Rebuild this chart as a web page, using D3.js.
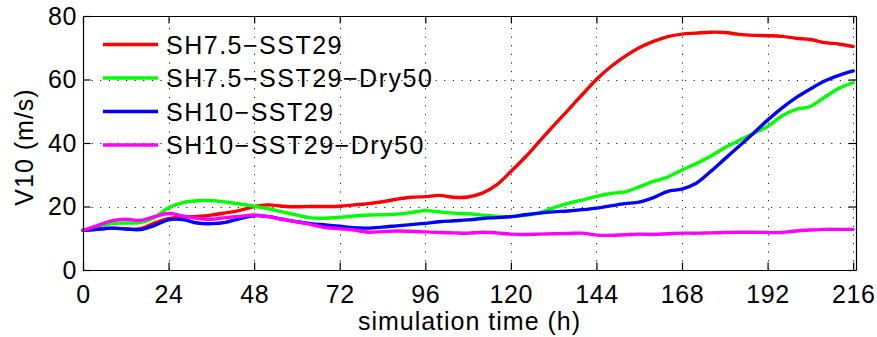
<!DOCTYPE html>
<html>
<head>
<meta charset="utf-8">
<script src="https://cdn.jsdelivr.net/npm/d3@7"></script>
<style>
  html, body { margin: 0; padding: 0; background: #fff; }
  svg { display: block; font-family: "Liberation Sans", Arial, Helvetica, sans-serif; }
</style>
</head>
<body>
<script>
"use strict";
// simulation time (h), every 4 h
const hours = d3.range(0, 217, 4);
const seriesNames = ["SH7.5\u2212SST29", "SH7.5\u2212SST29\u2212Dry50", "SH10\u2212SST29", "SH10\u2212SST29\u2212Dry50"];
const seriesColors = ["#ff0000", "#00ff00", "#0000ff", "#ff00ff"];
const sh75 = [12.5, 12.8, 13.2, 13.0, 13.0, 14.8, 16.2, 16.7, 16.9, 17.3, 18.0, 18.8, 20.0, 20.5,
	20.1, 19.9, 20.0, 20.0, 20.1, 20.5, 20.9, 21.5, 22.3, 22.9, 23.1, 23.5, 22.9, 23.0, 24.2, 26.8,
	31.0, 35.5, 40.5, 45.5, 50.3, 55.2, 60.0, 64.0, 67.3, 70.0, 72.0, 73.5, 74.3, 74.6, 74.9, 74.8,
	74.2, 73.9, 73.8, 73.6, 73.0, 72.6, 71.6, 71.2, 70.4];
const sh75dry = [12.5, 13.5, 14.6, 14.8, 14.9, 16.5, 19.6, 21.2, 21.8, 21.9, 21.4, 20.8, 20.1, 19.3,
	18.3, 17.3, 16.4, 16.3, 16.6, 17.0, 17.3, 17.4, 17.6, 18.1, 18.7, 18.3, 17.9, 17.7, 17.3, 16.9,
	16.8, 17.2, 18.0, 19.6, 21.0, 22.0, 23.2, 24.1, 24.6, 26.2, 27.9, 29.3, 31.5, 33.5, 35.8, 38.5,
	40.8, 43.0, 45.2, 48.5, 50.6, 51.5, 54.4, 57.2, 59.0];
const sh10 = [12.5, 12.8, 13.2, 12.9, 12.7, 14.0, 15.8, 15.9, 14.8, 14.6, 15.0, 16.2, 17.1, 16.8,
	16.0, 15.2, 14.6, 14.2, 13.8, 13.3, 13.2, 13.5, 13.9, 14.3, 14.7, 15.2, 15.5, 15.8, 16.2, 16.5,
	16.8, 17.4, 17.9, 18.3, 18.6, 19.0, 19.5, 20.2, 20.9, 21.4, 22.8, 24.8, 25.5, 27.3, 31.0, 35.0,
	39.0, 43.0, 47.2, 51.0, 54.3, 57.0, 59.5, 61.3, 62.7];
const sh10dry = [12.5, 14.0, 15.5, 16.0, 15.6, 16.8, 17.8, 17.0, 16.3, 16.0, 16.5, 16.9, 17.3, 16.8,
	15.9, 15.2, 14.3, 13.4, 13.0, 12.6, 11.9, 12.1, 12.3, 12.2, 12.0, 11.8, 11.7, 11.6, 11.9, 11.7,
	11.3, 11.2, 11.3, 11.4, 11.5, 11.6, 11.0, 10.9, 11.1, 11.3, 11.2, 11.4, 11.6, 11.6, 11.7, 11.8,
	11.9, 11.9, 11.8, 11.8, 12.3, 12.6, 12.8, 12.8, 12.8];
const xTicks = [0, 24, 48, 72, 96, 120, 144, 168, 192, 216];
const yTicks = [0, 20, 40, 60, 80];

const W = 877, H = 337;
const mLeft = 83, mRight = 856, mTop = 16, mBottom = 270;

const svg = d3.select("body").append("svg").attr("width", W).attr("height", H);
const x = d3.scaleLinear().domain([0, 216.8]).range([mLeft, mRight]);
const y = d3.scaleLinear().domain([0, 80]).range([mBottom, mTop]);

// dotted grid
const grid = svg.append("g").attr("stroke", "#222").attr("stroke-width", 1).attr("stroke-dasharray", "1.2,7.4");
grid.selectAll("line.v").data(xTicks.slice(1)).enter().append("line")
	.attr("x1", d => Math.round(x(d)) + 0.5).attr("x2", d => Math.round(x(d)) + 0.5)
	.attr("y1", mBottom).attr("y2", mTop);
grid.selectAll("line.h").data(yTicks.slice(1, -1)).enter().append("line")
	.attr("y1", d => Math.round(y(d)) + 0.5).attr("y2", d => Math.round(y(d)) + 0.5)
	.attr("x1", mLeft).attr("x2", mRight);

// data lines
const data = [sh75, sh75dry, sh10, sh10dry];
const line = d3.line().x((d, i) => x(hours[i])).y(d => y(d)).curve(d3.curveCatmullRom.alpha(0.5));
svg.append("g").selectAll("path").data(data).enter().append("path")
	.attr("d", line).attr("fill", "none")
	.attr("stroke", (d, i) => seriesColors[i]).attr("stroke-width", 3.4)
	.attr("stroke-linejoin", "round").attr("stroke-linecap", "round");

// axes, ticks inward
svg.append("g").attr("transform", "translate(0," + mBottom + ")")
	.call(d3.axisBottom(x).tickValues(xTicks).tickSize(-7.5).tickPadding(15).tickSizeOuter(0));
svg.append("g").attr("transform", "translate(" + mLeft + ",0)")
	.call(d3.axisLeft(y).tickValues(yTicks).tickSize(-7.5).tickPadding(6).tickSizeOuter(0));
svg.append("g").attr("transform", "translate(0," + mTop + ")")
	.call(d3.axisTop(x).tickValues(xTicks).tickSize(-7.5).tickFormat("").tickSizeOuter(0));
svg.append("g").attr("transform", "translate(" + mRight + ",0)")
	.call(d3.axisRight(y).tickValues(yTicks).tickSize(-7.5).tickFormat("").tickSizeOuter(0));
svg.selectAll("g").attr("font-family", null);
svg.selectAll(".tick text").attr("font-size", 25).attr("letter-spacing", 0.6).attr("fill", "#000");
svg.selectAll(".domain, .tick line").attr("stroke", "#000").attr("stroke-width", 1.2);

// axis labels
svg.append("text").attr("x", (mLeft + mRight) / 2).attr("y", 330)
	.attr("text-anchor", "middle").attr("font-size", 25).attr("letter-spacing", 1)
	.text("simulation time (h)");
svg.append("text").attr("transform", "translate(33,147) rotate(-90)")
	.attr("text-anchor", "middle").attr("font-size", 25).attr("letter-spacing", 1)
	.text("V10 (m/s)");

// legend
const lg = svg.append("g");
seriesNames.forEach((name, i) => {
	const cy = 44.5 + i * 33.5;
	lg.append("line").attr("x1", 103).attr("x2", 158).attr("y1", cy).attr("y2", cy)
		.attr("stroke", seriesColors[i]).attr("stroke-width", 3.4);
	lg.append("text").attr("x", 166).attr("y", cy).attr("dy", "0.36em")
		.attr("font-size", 25).attr("letter-spacing", 1.5).text(name);
});
</script>
</body>
</html>
